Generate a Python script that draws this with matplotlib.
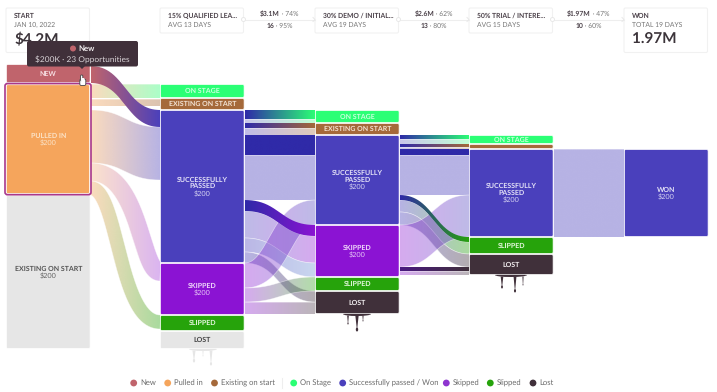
import matplotlib
matplotlib.use("Agg")
import numpy as np
import matplotlib.pyplot as plt
from matplotlib.path import Path
from matplotlib.patches import PathPatch, FancyBboxPatch, Circle, Polygon, Ellipse
from matplotlib.colors import to_rgb

plt.rcParams['font.family'] = ['Lato', 'DejaVu Sans']
plt.rcParams['text.hinting'] = 'no_hinting'
plt.rcParams['text.hinting_factor'] = 8

# ---------- data ----------
node_ids = [['n0', 'p0', 'e0'],
            ['o1', 'x1', 's1', 'k1', 'f1', 'l1'],
            ['o2', 'x2', 's2', 'k2', 'f2', 'l2'],
            ['o3', 'x3', 's3', 'f3', 'l3'],
            ['w4']]
node_values = [[19, 112, 154],
               [14, 12, 153, 52, 16, 18],
               [13, 12, 90, 52, 14, 23],
               [9, 5, 88, 17, 21],
               [88]]
node_titles = {'n0': 'NEW', 'p0': 'PULLED IN', 'e0': 'EXISTING ON START',
               'o1': 'ON STAGE', 'x1': 'EXISTING ON START', 's1': 'SUCCESSFULLY\nPASSED',
               'k1': 'SKIPPED', 'f1': 'SLIPPED', 'l1': 'LOST',
               'o2': 'ON STAGE', 'x2': 'EXISTING ON START', 's2': 'SUCCESSFULLY\nPASSED',
               'k2': 'SKIPPED', 'f2': 'SLIPPED', 'l2': 'LOST',
               'o3': 'ON STAGE', 'x3': '', 's3': 'SUCCESSFULLY\nPASSED',
               'f3': 'SLIPPED', 'l3': 'LOST', 'w4': 'WON'}
node_amounts = {'p0': '$200', 'e0': '$200', 's1': '$200', 'k1': '$200', 's2': '$200',
                'k2': '$200', 's3': '$200', 'w4': '$200'}

link_sources = ['n0', 'p0', 'p0', 'p0', 'p0', 'p0',
                's1', 's1', 's1', 's1', 's1', 's1', 's1', 's1', 's1', 's1',
                'k1', 'k1', 'k1',
                's2', 's2', 's2', 's2', 's2', 's2', 's2', 's2', 's2',
                'k2', 'k2', 'k2',
                's3']
link_targets = ['s1', 'o1', 'x1', 's1', 'k1', 'f1',
                'o2', 'o2', 'x2', 'x2', 's2', 's2', 'k2', 'k2', 'k2', 'l2',
                's2', 'f2', 'l2',
                'o3', 'o3', 'x3', 'x3', 's3', 's3', 'f3', 'f3', 'l3',
                's3', 'l3', 'l3',
                'w4']
link_values = [17, 14, 7, 53, 18, 14,
               9, 4, 5, 7, 20, 45, 11, 27, 14, 11,
               25, 14, 12,
               4, 5, 3, 2, 6, 40, 5, 12, 13,
               42, 4, 4,
               88]

cards_title = ['START', '15% QUALIFIED LEA...', '30% DEMO / INITIAL...', '50% TRIAL / INTERE...', 'WON']
cards_sub = ['JAN 10, 2022', 'AVG 13 DAYS', 'AVG 19 DAYS', 'AVG 15 DAYS', 'TOTAL 19 DAYS']
cards_big = ['$4.2M', '', '', '', '1.97M']
conv_amount = ['$3.1M', '$2.6M', '$1.97M']
conv_amount_pct = ['74%', '62%', '47%']
conv_count = ['16', '13', '10']
conv_count_pct = ['95%', '80%', '60%']

legend_labels = ['New', 'Pulled in', 'Existing on start', 'On Stage',
                 'Successfully passed / Won', 'Skipped', 'Slipped', 'Lost']

tooltip_title = 'New'
tooltip_text = '$200K · 23 Opportunities'

# ---------- layout & style ----------
RED, ORANGE, GREY = '#C0646C', '#F5A55C', '#E6E6E6'
GREEN, BROWN, BLUE = '#2BFF75', '#A5693A', '#4A40BC'
PURPLE, DGREEN, DARK = '#8B13D3', '#26A30B', '#40303A'
DBLUE = '#2F2AA8'
SKY = '#6F93D6'
TXT = '#4A4048'

col_left = [6, 160, 315, 469, 624]
col_top = [64, 84, 110, 135, 149]
col_w = 84.5

node_color = {'n': RED, 'p': ORANGE, 'e': GREY, 'o': GREEN, 'x': BROWN, 's': BLUE,
              'k': PURPLE, 'f': DGREEN, 'l': DARK, 'w': BLUE}
node_color['l1'] = GREY
title_color = {'n': '#F6DDE0', 'p': '#FBE3C8', 'e': '#555555', 'o': '#C9FFDC', 'x': '#F3E3D4',
               's': '#E4E2F7', 'k': '#F0D9FA', 'f': '#E5F7DE', 'l': '#F2EEF0', 'w': '#E4E2F7'}
title_color['l1'] = '#444444'

L = .4
# colour from, colour to, alpha, source pad, target pad, bend position
link_style = [
    (RED, BLUE, 1, 2, 0, .5), (ORANGE, GREEN, L, 1, 0, .5), (ORANGE, BROWN, L, 1, 1, .5),
    (ORANGE, BLUE, L, 4, 0, .5), (ORANGE, PURPLE, .32, 0, 0, .72), (ORANGE, DGREEN, L, 0, 0, .40),
    (DBLUE, GREEN, 1, 0, 0, .5), (BLUE, GREEN, .3, 0, 0, .5), (DBLUE, BROWN, 1, 0, 0, .5),
    (BLUE, BROWN, .35, 0, 0, .5), (DBLUE, DBLUE, 1, 0, 0, .5), (BLUE, BLUE, L, 0, 0, .5),
    (DBLUE, PURPLE, 1, 0, 0, .5), (BLUE, PURPLE, .36, 0, 0, .5), (BLUE, SKY, .38, 0, 0, .5),
    (BLUE, DARK, L, 0, 0, .5),
    (PURPLE, BLUE, .36, 0, 0, .5), (PURPLE, DGREEN, .36, 0, 0, .5), (PURPLE, DARK, .36, 0, 0, .5),
    (DBLUE, GREEN, 1, 0, 0, .5), (BLUE, GREEN, .3, 0, 0, .5), (DBLUE, BROWN, 1, 0, 0, .5),
    (BLUE, BROWN, .3, 0, 0, .5), (DBLUE, DBLUE, 1, 0, 0, .5), (BLUE, BLUE, L, 0, 0, .5),
    (DBLUE, DGREEN, 1, 0, 0, .5), (BLUE, DGREEN, L, 0, 0, .5), (BLUE, DARK, L, 0, 0, .5),
    (PURPLE, BLUE, .36, 0, 0, .5), ('#4A1A80', DARK, 1, 0, 0, .5), (PURPLE, DARK, .36, 0, 0, .5),
    (BLUE, BLUE, L, 0, 0, .5),
]

fig = plt.figure(figsize=(7.17, 3.92), dpi=100, facecolor='white')
ax = fig.add_axes([0, 0, 1, 1])
ax.axis('off')

# node rectangles from stacked values
rect = {}
for c, (ids, vals) in enumerate(zip(node_ids, node_values)):
    y = col_top[c]
    for i, v in zip(ids, vals):
        rect[i] = (col_left[c], y, col_w, v)
        y += v


def ribbon(x0, y0, x1, y1, w, c0, c1, alpha, frac):
    xm = x0 + (x1 - x0) * frac
    t = np.linspace(0, 1, 160)[:, None]
    P = [np.array(p, float) for p in ((x0, y0), (xm, y0), (xm, y1), (x1, y1))]
    pts = ((1 - t) ** 3) * P[0] + 3 * ((1 - t) ** 2) * t * P[1] + 3 * (1 - t) * t ** 2 * P[2] + t ** 3 * P[3]
    if abs(y1 - y0) > 0.7 * (x1 - x0):
        tan = np.gradient(pts, axis=0)
        tan /= np.maximum(np.linalg.norm(tan, axis=1, keepdims=True), 1e-9)
        nor = np.c_[-tan[:, 1], tan[:, 0]]
        up, lo = pts - nor * w / 2, pts + nor * w / 2
    else:
        up, lo = pts - [0, w / 2], pts + [0, w / 2]
    poly = np.vstack([up, lo[::-1]])
    n = 128
    f = np.linspace(0, 1, n)[:, None]
    rgba = np.ones((1, n, 4))
    rgba[0, :, :3] = (1 - f) * np.array(to_rgb(c0)) + f * np.array(to_rgb(c1))
    rgba[0, :, 3] = alpha
    z = 3 if alpha == 1 else 2
    top, bot = poly[:, 1].min(), poly[:, 1].max()
    im = ax.imshow(rgba, extent=(x0, x1, bot, top), aspect='auto', zorder=z, interpolation='bilinear')
    patch = PathPatch(Path(poly), transform=ax.transData, fc='none', ec='none')
    ax.add_patch(patch)
    im.set_clip_path(patch)
    if alpha < 1:
        ax.plot(up[:, 0], up[:, 1], color='white', lw=.5, alpha=.5, zorder=z)
        ax.plot(lo[:, 0], lo[:, 1], color='white', lw=.5, alpha=.5, zorder=z)


off_src = {k: rect[k][1] for k in rect}
off_dst = {k: rect[k][1] for k in rect}
for s, d, v, st in zip(link_sources, link_targets, link_values, link_style):
    c0, c1, a, ps, pd, fr = st
    off_src[s] += ps
    off_dst[d] += pd
    x0 = rect[s][0] + rect[s][2]
    x1 = rect[d][0]
    ribbon(x0, off_src[s] + v / 2, x1, off_dst[d] + v / 2, v, c0, c1, a, fr)
    off_src[s] += v
    off_dst[d] += v


def rbox(x, y, w, h, fc, ec='none', lw=0, r=1.5, z=4):
    p = FancyBboxPatch((x + r, y + r), w - 2 * r, h - 2 * r, boxstyle=f'round,pad={r},rounding_size={r}',
                       fc=fc, ec=ec, lw=lw, zorder=z)
    ax.add_patch(p)
    return p


for i, (x, y, w, h) in rect.items():
    k = i[0]
    fc = node_color.get(i, node_color[k])
    rbox(x + .4, y + .5, w - .8, h - 1, fc, ec='white', lw=.5)
    tc = title_color.get(i, title_color[k])
    t = node_titles[i]
    amt = node_amounts.get(i)
    cx = x + w / 2
    cy = y + h / 2
    if i == 'p0':
        continue
    if amt:
        nl = t.count('\n') + 1
        ax.text(cx, cy - 3.5, t, color=tc, fontsize=5.0, fontweight='bold', ha='center', va='center',
                linespacing=1.05, zorder=6)
        ax.text(cx, cy + 3.7 + (nl - 1) * 3.5, amt, color=tc, fontsize=5.2, ha='center', va='center', zorder=6,
                alpha=.9)
    elif t:
        ax.text(cx, cy, t, color=tc, fontsize=5.0, fontweight='bold', ha='center', va='center', zorder=6)

# pulled-in highlight outline
x, y, w, h = rect['p0']
rbox(x - 1, y + .5, w + 1.5, h - .8, 'none', ec='#A8388C', lw=1.2, r=2.5, z=5)
rbox(x + .3, y + 1.7, w - 1.2, h - 3.2, ORANGE, ec='white', lw=.6, r=1.5, z=4.5)
ax.text(x + w / 2, y + h / 2 - 3.5, 'PULLED IN', color=title_color['p'], fontsize=5.0, fontweight='bold',
        ha='center', va='center', zorder=6)
ax.text(x + w / 2, y + h / 2 + 3.7, '$200', color=title_color['p'], fontsize=5.2, ha='center', va='center', zorder=6)

# drips under the lost nodes: (node, colour, x offset, length, width)
drips = [('l1', GREY, 34, 14, 2.6), ('l1', GREY, 43, 8, 1.0), ('l1', GREY, 51, 17, 2.4),
         ('l2', DARK, 33, 11, 1.4), ('l2', DARK, 42, 18, 2.8), ('l2', DARK, 48, 8, 1.0),
         ('l3', DARK, 33, 14, 2.2), ('l3', DARK, 46, 18, 2.4), ('l3', DARK, 54, 11, 1.0)]
for node, col, dx, ln, wd in drips:
    x, y, w, h = rect[node]
    bx, by = x + dx, y + h - .5
    ax.add_patch(Polygon([[bx - wd * .6, by + 2], [bx + wd * .6, by + 2], [bx + .15, by + ln - wd * .8], [bx - .15, by + ln - wd * .8]],
                         fc=col, ec='none', zorder=4))
    ax.add_patch(Ellipse((bx, by + ln - wd * .7), wd * .85, wd * 1.4, fc=col, ec='none', zorder=4))
for node, col, dx, wd in [('l1', GREY, 43, 28), ('l2', DARK, 42, 28), ('l3', DARK, 42, 32)]:
    x, y, w, h = rect[node]
    ax.add_patch(Ellipse((x + dx, y + h), wd, 4, fc=col, ec='none', zorder=3.5))

# cards
card_left = [6, 160, 315, 469, 624]
for i, x in enumerate(card_left):
    tall = bool(cards_big[i])
    rbox(x, 8, 83.5, 44.5 if tall else 25, 'white', ec='#F1F1F1', lw=.8, r=1.5, z=1)
    ax.text(x + 8, 16, cards_title[i], color=TXT, fontsize=4.9, fontweight='bold', va='center', zorder=2)
    ax.text(x + 8, 25, cards_sub[i], color='#777777', fontsize=4.9, va='center', zorder=2)
    if tall:
        ax.text(x + 8, 40, cards_big[i], color='#3C343A', fontsize=11, fontweight='bold', va='center', zorder=2)

# connectors with conversion numbers
fig.canvas.draw()
rend = fig.canvas.get_renderer()


def pair(cx, y, a, b):
    t1 = ax.text(0, y, a, fontsize=4.9, fontweight='bold', color=TXT, va='center', zorder=2)
    t2 = ax.text(0, y, ' · ' + b, fontsize=4.9, color='#777777', va='center', zorder=2)
    ax.set_xlim(0, 717)
    ax.set_ylim(392, 0)
    w1 = t1.get_window_extent(rend).width
    w2 = t2.get_window_extent(rend).width
    x0 = cx - (w1 + w2) / 2
    t1.set_x(x0)
    t2.set_x(x0 + w1)


for i in range(3):
    x0 = card_left[i + 1] + 83.5
    x1 = card_left[i + 2]
    ax.plot([x0 + 1, x1], [19.5, 19.5], color='#EEEEEE', lw=.8, zorder=1)
    ax.add_patch(Circle((x0, 19.5), 2, fc='white', ec='#E8E8E8', lw=.7, zorder=1.5))
    ax.plot([x1 - 2, x1, x1 - 2], [17.5, 19.5, 21.5], color='#E8E8E8', lw=.7, zorder=1.5)
    cx = (x0 + x1) / 2
    pair(cx, 14, conv_amount[i], conv_amount_pct[i])
    pair(cx, 25.5, conv_count[i], conv_count_pct[i])

# tooltip
rbox(27, 41, 111, 25.5, DARK, r=2, z=8)
ax.add_patch(Polygon([[79, 66], [85, 66], [82, 69]], fc=DARK, ec='none', zorder=8))
ax.add_patch(Circle((73, 48.5), 3, fc=RED, ec='none', zorder=9))
ax.text(78.5, 48.5, tooltip_title, color='#F2EEF0', fontsize=5.6, fontweight='bold', va='center', zorder=9)
ax.text(82.5, 59.5, tooltip_text, color='#D8D2D6', fontsize=6.0, ha='center', va='center', zorder=9)
# hand cursor
rbox(79.8, 79, 6, 6.5, 'white', ec='#444444', lw=.6, r=1.5, z=9)
rbox(80.6, 75, 2.2, 6, 'white', ec='#444444', lw=.6, r=1, z=9)
rbox(81.1, 78, 3.5, 5, 'white', ec='none', lw=0, r=1, z=9.1)

# legend
legend_x = [133.7, 167.7, 214.5, 293.7, 342.7, 446.3, 490.3, 533]
legend_colors = [RED, ORANGE, BROWN, GREEN, BLUE, '#8E35CF', DGREEN, DARK]
for x, c, t in zip(legend_x, legend_colors, legend_labels):
    ax.add_patch(Circle((x, 383), 3.4, fc=c, ec='none', zorder=2))
    ax.text(x + 6.2, 383, t, color='#6B6B6B', fontsize=5.5, va='center', zorder=2)
ax.plot([282, 282], [378, 388], color='#EEEEEE', lw=.8)

ax.set_xlim(0, 717)
ax.set_ylim(392, 0)
ax.set_aspect('auto')
fig.savefig('out.png', dpi=100, facecolor='white')
